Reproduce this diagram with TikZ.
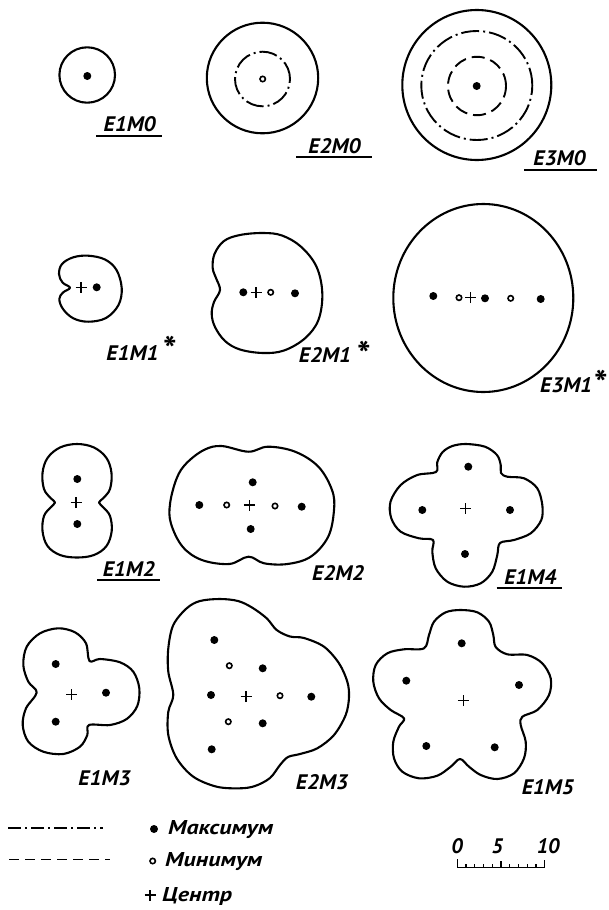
\documentclass[tikz,border=0pt]{standalone}
\usepackage{fontspec}
\usepackage{graphicx}
\newfontfamily\lblfont{PT Sans}
\newcommand\lbltxt[1]{\scalebox{1.05}[1]{#1}}
\newcommand\legtxt[1]{\scalebox{1.2}[1]{#1}}
\tikzset{
 outline/.style={line width=2.1pt, line join=round},
 dashdot/.style={line width=1.9pt, dash pattern=on 18pt off 4pt on 2pt off 4pt},
 dashd/.style={line width=1.9pt, dash pattern=on 13pt off 6pt},
 lab/.style={font=\lblfont\bfseries\itshape\fontsize{21}{21}\selectfont, inner sep=0pt},
 ast/.style={font=\lblfont\bfseries\fontsize{36}{36}\selectfont, inner sep=0pt},
 leg/.style={font=\lblfont\bfseries\itshape\fontsize{20}{20}\selectfont, inner sep=0pt, anchor=west},
 uline/.style={line width=2pt},
 thin/.style={line width=1.4pt},
 maxd/.pic={\fill (0,0) circle[radius=4pt];},
 mind/.pic={\draw[line width=1.6pt] (0,0) circle[radius=2.7pt];},
 cen/.pic={\draw[line width=1.5pt] (-5.5pt,0) -- (5.5pt,0) (0,-5.5pt) -- (0,5.5pt);},
}
\begin{document}
\begin{tikzpicture}[x=1pt,y=-1pt]
\fill[white] (0,0) rectangle (608,910);
\useasboundingbox (0,0) rectangle (608,910);

% ---------- row 1 ----------
\draw[outline] (87.2,75) ellipse [x radius=27.8pt, y radius=27.7pt];
\pic at (87.3,76) {maxd};
\node[lab] (e1m0) at (129.7,124.2) {\lbltxt{E1M0}};
\draw[uline] (96,136) -- (161.7,136);

\draw[outline] (262.5,78) ellipse [x radius=55.7pt, y radius=55.3pt];
\draw[dashdot] (262.5,79) ellipse [x radius=27.5pt, y radius=27.3pt];
\pic at (262.7,79) {mind};
\node[lab] (e2m0) at (334.5,145.8) {\lbltxt{E2M0}};
\draw[uline] (296,156.7) -- (372,156.7);

\draw[outline] (476.8,85) ellipse [x radius=74.5pt, y radius=75pt];
\draw[dashdot] (476.8,85.5) ellipse [x radius=55.5pt, y radius=54.5pt];
\draw[dashd] (477,86) ellipse [x radius=29pt, y radius=29.2pt];
\pic at (476.7,86) {maxd};
\node[lab] (e3m0) at (559.5,158.3) {\lbltxt{E3M0}};
\draw[uline] (524,170) -- (596.7,170);

% ---------- row 2 ----------
\draw[outline] plot[smooth cycle, tension=0.6] coordinates {
 (88.3,255.7) (105,259.5) (116.5,270) (121.7,288) (118.5,305) (106,318)
 (88.3,321.7) (73.3,318.3) (63,309) (59.3,299) (63,292.5) (70,287.7)
 (62.5,282.5) (59,274) (62,264) (73.3,257.3)};
\pic at (81,287.3) {cen};
\pic at (96.7,287.3) {maxd};
\node[lab] (e1m1) at (132.5,353.3) {\lbltxt{E1M1}};
\node[ast] (a1) at (170,349) {*};

\draw[outline] plot[smooth cycle, tension=0.6] coordinates {
 (263,233) (282,235.5) (301,246.7) (316.5,266.7) (322.3,293.3) (318.4,320)
 (305,338.3) (284,350.5) (263,353) (240,349.5) (225,341) (215,327)
 (211.7,314) (214,302) (220,290) (216,278) (212.7,268) (214.5,254)
 (224,241) (240,235)};
\pic at (243.3,292.3) {maxd};
\pic at (256,292.3) {cen};
\pic at (270.7,292.3) {mind};
\pic at (295,293.3) {maxd};
\node[lab] (e2m1) at (325,355) {\lbltxt{E2M1}};
\node[ast] (a2) at (364,354) {*};

\draw[outline] (483.3,298) ellipse [x radius=90pt, y radius=94pt];
\pic at (433.3,296) {maxd};
\pic at (459,297.7) {mind};
\pic at (470.7,297.7) {cen};
\pic at (485,298.3) {maxd};
\pic at (510.7,298.3) {mind};
\pic at (540.7,299) {maxd};
\node[lab] (e3m1) at (566.2,385) {\lbltxt{E3M1}};
\node[ast] (a3) at (601,383) {*};

% ---------- row 3 ----------
\draw[outline] plot[smooth cycle, tension=0.6] coordinates {
 (77,444) (94,447.5) (106.5,458) (111.5,473) (110,489) (103.5,498) (99,502.5)
 (103.5,507.5) (110,516) (111.7,531) (106.5,546) (94,555) (77,557.5)
 (60,555) (47.5,546) (42.5,531) (44,516) (50.5,507.5) (55,502.5)
 (50.5,498) (44,489) (42.5,473) (47.5,458) (60,447.5)};
\pic at (77.3,479) {maxd};
\pic at (77.3,524) {maxd};
\pic at (76,502.7) {cen};
\node[lab] (e1m2) at (128.8,568.8) {\lbltxt{E1M2}};
\draw[uline] (97.3,580) -- (160,580);

\draw[outline] plot[smooth cycle, tension=0.6] coordinates {
 (248.5,451.7) (268,446.7) (295.1,451.7) (318.4,466.7) (332,490) (334,510)
 (328.2,536.7) (310.7,556.7) (287.4,564) (264.1,563.3) (248.5,556.7)
 (229.2,564) (201.9,560) (182.6,546.7) (170.9,523.3) (170.1,503.3)
 (176.7,478.3) (186.4,463.3) (203.9,450) (221.4,446)};
\pic at (252.7,482.3) {maxd};
\pic at (199.3,505) {maxd};
\pic at (226.7,505) {mind};
\pic at (249.3,505) {cen};
\pic at (275,506) {mind};
\pic at (301.7,506.7) {maxd};
\pic at (250.7,529) {maxd};
\node[lab] (e2m2) at (338.2,573) {\lbltxt{E2M2}};

\draw[outline] plot[smooth cycle, tension=0.55] coordinates {
 (466,444) (485,446.7) (497,455) (500.7,465) (501,473) (507.3,476.7)
 (524,478.3) (537.3,488.3) (542.3,505) (541.3,520) (530.7,533.3) (514,540)
 (500,543) (497.3,555) (492.3,571.7) (480.7,583.3) (464,586.7) (447.3,581.7)
 (435.7,568.3) (432.3,551.7) (433,540) (419,538.3) (400.7,531.7)
 (391.3,518.3) (390.5,501.7) (400.7,485) (417.3,475) (436,472)
 (437.3,462) (442.7,452) (452.4,446)};
\pic at (468.3,466.7) {maxd};
\pic at (422.3,510) {maxd};
\pic at (510,510) {maxd};
\pic at (465,554) {maxd};
\pic at (465.7,508.3) {cen};
\node[lab] (e1m4) at (530.3,576.7) {\lbltxt{E1M4}};
\draw[uline] (496.7,588.3) -- (562.3,588.3);

% ---------- row 4 ----------
\draw[outline] plot[smooth cycle, tension=0.55] coordinates {
 (36.7,692.5) (28.3,681.7) (23.3,665) (26.7,646.7) (40,633.3) (58.3,628.3)
 (75,632.3) (86,643.3) (89.5,661) (100,659) (120,662.3) (133.3,671.7)
 (139.3,688.3) (137.3,706) (126.7,719) (110,725) (89,725) (87.3,735)
 (80,746.7) (63.3,754) (43.3,751.7) (28.3,741.7) (22.7,725) (26,708.3)};
\pic at (55.7,664) {maxd};
\pic at (106,692.7) {maxd};
\pic at (55.7,721.7) {maxd};
\pic at (71.7,694.3) {cen};
\node[lab] (e1m3) at (104.5,778.3) {\lbltxt{E1M3}};

\draw[outline] plot[smooth cycle, tension=0.55] coordinates {
 (220,599) (238,601) (252,607.5) (266.7,618.3) (276.7,630) (290,636.5)
 (304,638) (324,646.7) (339,663.3) (347.3,681.7) (349,697) (345.7,715)
 (334,735) (317.3,748.3) (300,754) (288,757) (280,765) (270,778) (255,786)
 (240,788.3) (216.7,786.7) (193.3,776.7) (176.7,758.3) (168.3,735)
 (168.3,711.7) (173.3,695) (168.3,671.7) (168.3,648.3) (173.3,625)
 (186.7,608.3) (200,601)};
\pic at (214.3,640) {maxd};
\pic at (262.7,668.3) {maxd};
\pic at (211,695) {maxd};
\pic at (311.3,696.7) {maxd};
\pic at (262.7,723.3) {maxd};
\pic at (211.7,749.3) {maxd};
\pic at (229.3,665.7) {mind};
\pic at (280,695.7) {mind};
\pic at (228.3,721.7) {mind};
\pic at (246,696.7) {cen};
\node[lab] (e2m3) at (322,782.5) {\lbltxt{E2M3}};

\draw[outline] plot[smooth cycle, tension=0.55] coordinates {
 (460.7,610) (477.3,612.3) (489,621.7) (493.3,635) (495.7,647) (507.3,654.3)
 (527.3,655) (542.3,663.3) (550.7,678.3) (549,695) (537.3,710) (522.3,716.7)
 (520.7,725) (525.7,741.7) (524,758.3) (514,773.3) (497.3,779) (480.7,775)
 (469,766.7) (460,759) (450.7,766.7) (437.3,775.7) (419,778.3) (402.3,771.7)
 (394,758.3) (393.3,741.7) (399,726.7) (404,718.3) (390.7,710) (379,698.3)
 (373.3,681.7) (375.7,665) (387.3,653.3) (404,649.3) (424,648.3) (429,635)
 (434,621.7) (445.7,612.3)};
\pic at (461.7,643.3) {maxd};
\pic at (406.3,680.7) {maxd};
\pic at (519,685) {maxd};
\pic at (426.3,746) {maxd};
\pic at (494.7,747.3) {maxd};
\pic at (463.3,700.7) {cen};
\node[lab] (e1m5) at (547.8,787.5) {\lbltxt{E1M5}};

% ---------- legend ----------
\draw[line width=1.6pt, dash pattern=on 13pt off 4pt on 2pt off 4pt] (8.3,827.7) -- (103.3,827.7);
\draw[line width=1.6pt, dash pattern=on 10pt off 6pt] (9.3,859.3) -- (110,859.3);
\pic at (154,829) {maxd};
\node[leg] (lmax) at (168,829.5) {\legtxt{Максимум}};
\pic at (152.7,861) {mind};
\node[leg] (lmin) at (165,861.5) {\legtxt{Минимум}};
\pic at (150,895) {cen};
\node[leg] (lcen) at (162,896) {\legtxt{Центр}};

% ---------- scale ----------
\node[lab] (s0) at (457,845.8) {0};
\node[lab] (s5) at (497.3,845.8) {5};
\node[lab] (s10) at (548.2,845.8) {10};
\draw[thin] (457.3,859) -- (457.3,867.7) -- (544.7,867.7) -- (544.7,860);
\draw[thin] (501,861) -- (501,867.7);
\foreach \k in {1,2,3,4,6,7,8,9} \draw[thin] ({457.3+8.74*\k},864) -- ({457.3+8.74*\k},867.7);
\end{tikzpicture}
\end{document}
